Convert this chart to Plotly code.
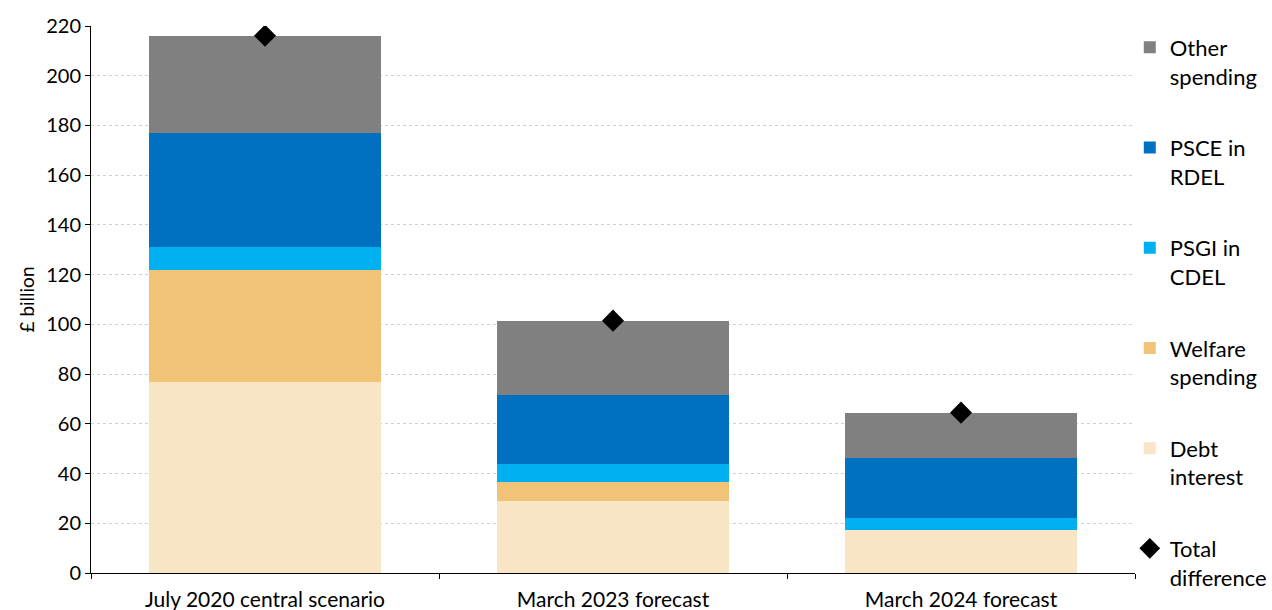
import plotly.graph_objects as go

categories = ["July 2020 central scenario", "March 2023 forecast", "March 2024 forecast"]
debt_interest = [76.8, 29.0, 17.2]
welfare = [45.1, 7.6, 0.0]
psgi = [9.4, 7.2, 4.9]
psce = [45.8, 27.7, 24.2]
other = [39.0, 30.0, 18.2]
total = [216.1, 101.5, 64.5]
y_ticks = [0, 20, 40, 60, 80, 100, 120, 140, 160, 180, 200, 220]

FONT = "Lato"
series = [
    ("Debt<br>interest", debt_interest, "#F7E5C5", 5),
    ("Welfare<br>spending", welfare, "#F0C377", 4),
    ("PSGI in<br>CDEL", psgi, "#00B0F0", 3),
    ("PSCE in<br>RDEL", psce, "#0070C0", 2),
    ("Other<br>spending", other, "#808080", 1),
]

fig = go.Figure()
for name, vals, col, rank in series:
    fig.add_trace(go.Bar(x=categories, y=vals, name=name, marker_color=col,
                         marker_line_width=0, width=0.667, legendrank=rank,
                         legendgroup=name))
fig.add_trace(go.Scatter(x=categories, y=total, name="Total<br>difference", mode="markers",
                         marker=dict(symbol="diamond", size=17, color="black"),
                         legendrank=6, legendgroup="total"))

fig.update_layout(
    barmode="stack",
    width=1272, height=610,
    margin=dict(l=91, r=137, t=26, b=37, autoexpand=False),
    plot_bgcolor="white", paper_bgcolor="white",
    font=dict(family=FONT, size=18, color="#000000"),
    legend=dict(traceorder="grouped", x=0.995, xanchor="left", y=0.999, yanchor="top",
                valign="top", tracegroupgap=40, font=dict(size=22, family=FONT),
                itemwidth=30, maxheight=610, bgcolor="rgba(0,0,0,0)"),
    bargap=0.333,
)
fig.update_yaxes(range=[0, 220], tickvals=y_ticks, showgrid=True, gridcolor="#d0d0d0",
                 griddash="dot", gridwidth=1, showline=True, linecolor="black", linewidth=1,
                 ticks="outside", ticklen=5, tickcolor="black", zeroline=False,
                 title=dict(text="£ billion", font=dict(size=19), standoff=6),
                 tickfont=dict(size=20))
fig.update_xaxes(showline=True, linecolor="black", linewidth=1, ticks="outside",
                 tickson="boundaries", ticklen=5, tickcolor="black", tickfont=dict(size=21),
                 ticklabelstandoff=8)

fig.write_html("out.html")
